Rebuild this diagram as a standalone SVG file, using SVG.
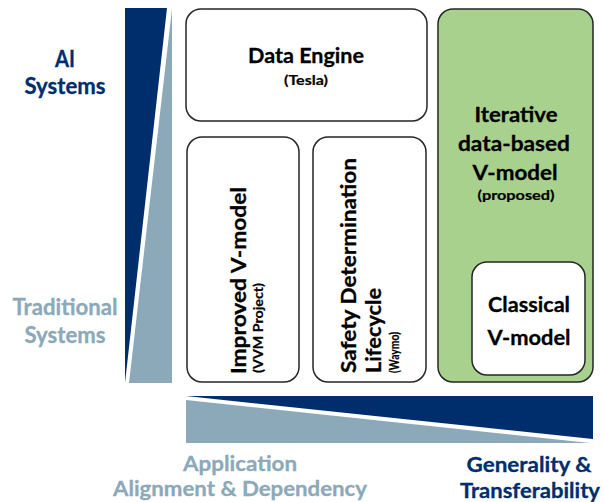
<svg xmlns="http://www.w3.org/2000/svg" width="603" height="502" viewBox="0 0 603 502">
<style>
text{font-family:Lato,"Open Sans","Liberation Sans",sans-serif;font-weight:bold;}
.t{font-size:21px;fill:#000;stroke:#000;stroke-width:0.3;}
.s{font-size:13px;fill:#000;stroke:#000;stroke-width:0.2;}
.box{fill:#fff;stroke:#262626;stroke-width:1.5;}
.navy{fill:#002D6B;}
.light{fill:#8CA9B9;}
.ln{stroke:#002D6B;stroke-width:0.3;}
.ll{stroke:#8CA9B9;stroke-width:0.3;}
.c{text-anchor:middle;}
</style>
<rect width="603" height="502" fill="#fff"/>
<g id="axes">
<polygon class="navy" points="125,8 167,8 125,383"/>
<polygon class="light" points="172,9 172,383 129,383"/>
<polygon class="navy" points="186,396 593,396 593,439"/>
<polygon class="light" points="186,400 186,443 590,443"/>
<text class="c navy ln" x="65" y="67" font-size="22" textLength="20" lengthAdjust="spacingAndGlyphs">AI</text>
<text class="c navy ln" x="65" y="94" font-size="22" textLength="81" lengthAdjust="spacingAndGlyphs">Systems</text>
<text class="c light ll" x="65" y="315" font-size="22" textLength="105" lengthAdjust="spacingAndGlyphs">Traditional</text>
<text class="c light ll" x="65" y="343" font-size="22" textLength="81" lengthAdjust="spacingAndGlyphs">Systems</text>
<text class="c light ll" x="240" y="471" font-size="21" textLength="114" lengthAdjust="spacingAndGlyphs">Application</text>
<text class="c light ll" x="240" y="496" font-size="21" textLength="254" lengthAdjust="spacingAndGlyphs">Alignment &amp; Dependency</text>
<text class="c navy ln" x="529" y="472" font-size="21" textLength="125" lengthAdjust="spacingAndGlyphs">Generality &amp;</text>
<text class="c navy ln" x="530" y="498" font-size="21" textLength="140" lengthAdjust="spacingAndGlyphs">Transferability</text>
</g>
<g id="data-engine">
<rect class="box" x="186" y="9" width="241" height="112" rx="15"/>
<text class="t c" x="306" y="63" textLength="116" lengthAdjust="spacingAndGlyphs">Data Engine</text>
<text class="s c" x="306" y="85" textLength="44" lengthAdjust="spacingAndGlyphs">(Tesla)</text>
</g>
<g id="improved-v-model">
<rect class="box" x="187" y="137" width="112" height="245" rx="15"/>
<text class="t" transform="translate(246,374) rotate(-90)" textLength="187" lengthAdjust="spacingAndGlyphs">Improved V-model</text>
<text class="s" transform="translate(263,373) rotate(-90)" textLength="90" lengthAdjust="spacingAndGlyphs">(VVM Project)</text>
</g>
<g id="safety-determination">
<rect class="box" x="313" y="137" width="113" height="245" rx="15"/>
<text class="t" transform="translate(356,373) rotate(-90)" textLength="215" lengthAdjust="spacingAndGlyphs">Safety Determination</text>
<text class="t" transform="translate(381,373) rotate(-90)" textLength="85" lengthAdjust="spacingAndGlyphs">Lifecycle</text>
<text class="s" transform="translate(399,373) rotate(-90)" textLength="41" lengthAdjust="spacingAndGlyphs">(Waymo)</text>
</g>
<g id="iterative-v-model">
<rect x="438" y="9" width="155" height="373" rx="15" fill="#A9D18E" stroke="#262626" stroke-width="1.5"/>
<text class="t c" x="516" y="122" textLength="83" lengthAdjust="spacingAndGlyphs">Iterative</text>
<text class="t c" x="514" y="151" textLength="112" lengthAdjust="spacingAndGlyphs">data-based</text>
<text class="t c" x="515" y="180" textLength="85" lengthAdjust="spacingAndGlyphs">V-model</text>
<text class="s c" x="516" y="200" textLength="77" lengthAdjust="spacingAndGlyphs">(proposed)</text>
</g>
<g id="classical-v-model">
<rect class="box" x="472" y="262" width="113" height="113" rx="15"/>
<text class="t c" x="529" y="312" textLength="82" lengthAdjust="spacingAndGlyphs">Classical</text>
<text class="t c" x="529" y="345" textLength="83" lengthAdjust="spacingAndGlyphs">V-model</text>
</g>
<g id="connectors"></g>
</svg>
